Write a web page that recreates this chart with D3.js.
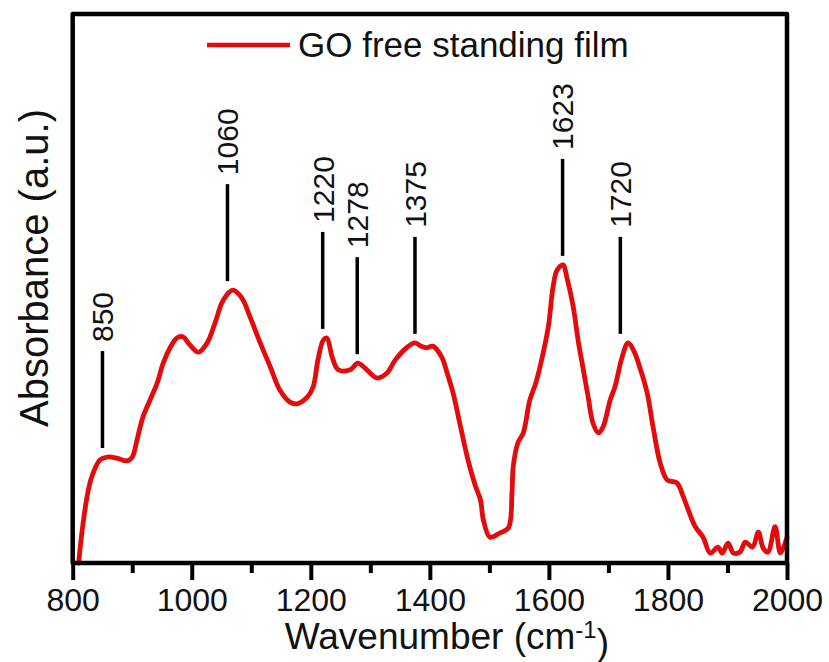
<!DOCTYPE html>
<html>
<head>
<meta charset="utf-8">
<script src="https://cdn.jsdelivr.net/npm/d3@7"></script>
<style>
  body { margin: 0; background: #fff; }
  svg { display: block; }
  text { font-family: "Liberation Sans", Arial, sans-serif; fill: #111; }
</style>
</head>
<body>
<svg id="chart" width="829" height="662"></svg>
<script>
// FTIR spectrum of the GO free standing film
const wavenumber = [810, 816, 824, 832, 846, 858, 874, 891, 900, 908, 918, 930, 942, 952, 964, 975, 985, 997,
  1011, 1026, 1039, 1053, 1069, 1084, 1098, 1115, 1132, 1148, 1165, 1177, 1194, 1204, 1212, 1221, 1227, 1236,
  1246, 1266, 1279, 1291, 1311, 1328, 1342, 1362, 1375, 1385, 1395, 1405, 1420, 1429, 1439, 1451, 1464, 1476,
  1485, 1490, 1501, 1518, 1532, 1538, 1540, 1548, 1557, 1568, 1578, 1585, 1599, 1607, 1614, 1624, 1630, 1641,
  1649, 1657, 1666, 1674, 1683, 1691, 1703, 1711, 1723, 1733, 1742, 1754, 1765, 1775, 1787, 1799, 1815, 1826,
  1834, 1846, 1859, 1871, 1884, 1891, 1901, 1910, 1921, 1930, 1942, 1952, 1960, 1968, 1980, 1989, 2000];
const absorbance = [0.000, 0.060, 0.120, 0.157, 0.188, 0.193, 0.191, 0.186, 0.193, 0.224, 0.266, 0.297, 0.328,
  0.364, 0.393, 0.410, 0.412, 0.397, 0.384, 0.401, 0.437, 0.479, 0.497, 0.483, 0.448, 0.401, 0.357, 0.315, 0.293,
  0.290, 0.302, 0.321, 0.370, 0.406, 0.410, 0.375, 0.352, 0.352, 0.364, 0.355, 0.337, 0.346, 0.370, 0.393, 0.401,
  0.395, 0.392, 0.395, 0.375, 0.346, 0.310, 0.251, 0.188, 0.142, 0.115, 0.078, 0.047, 0.055, 0.064, 0.128, 0.175,
  0.219, 0.237, 0.297, 0.328, 0.357, 0.430, 0.503, 0.534, 0.543, 0.521, 0.466, 0.406, 0.357, 0.302, 0.255, 0.237,
  0.248, 0.297, 0.321, 0.375, 0.401, 0.388, 0.352, 0.310, 0.248, 0.182, 0.151, 0.146, 0.120, 0.097, 0.066, 0.047,
  0.018, 0.029, 0.018, 0.036, 0.018, 0.020, 0.038, 0.029, 0.056, 0.027, 0.020, 0.066, 0.018, 0.047];

// Assigned band positions (cm-1)
const peakLabels = [850, 1060, 1220, 1278, 1375, 1623, 1720];

const majorTicks = [800, 1000, 1200, 1400, 1600, 1800, 2000];
const minorTicks = [900, 1100, 1300, 1500, 1700, 1900];
const seriesName = "GO free standing film";

const svg = d3.select("#chart");
const plotLeft = 72.7, plotRight = 787, plotTop = 14, plotBottom = 563;
const red = "#e30b0b";

const x = d3.scaleLinear().domain([800, 2000]).range([plotLeft, plotRight]);
const y = d3.scaleLinear().domain([0, 1]).range([plotBottom, plotTop]);

const spectrum = wavenumber.map((w, i) => ({ w, a: absorbance[i] }));

// Spectrum trace
const line = d3.line().x(d => x(d.w)).y(d => y(d.a)).curve(d3.curveCatmullRom.alpha(0.5));
svg.append("path")
  .datum(spectrum)
  .attr("d", line)
  .attr("fill", "none")
  .attr("stroke", red)
  .attr("stroke-width", 4.8)
  .attr("stroke-linejoin", "round")
  .attr("stroke-linecap", "round");

// Bottom axis: labelled major ticks and short minor ticks
const majorAxis = d3.axisBottom(x).tickValues(majorTicks).tickSize(17).tickPadding(8).tickFormat(d3.format("d"));
const gMajor = svg.append("g").attr("transform", `translate(0,${plotBottom})`).call(majorAxis);
gMajor.select(".domain").remove();
gMajor.selectAll(".tick line").attr("stroke", "#000").attr("stroke-width", 4);
gMajor.selectAll(".tick text")
  .attr("font-size", 32)
  .attr("font-family", "'Liberation Sans', Arial, sans-serif")
  .attr("fill", "#111");

const minorAxis = d3.axisBottom(x).tickValues(minorTicks).tickSize(10).tickFormat("");
const gMinor = svg.append("g").attr("transform", `translate(0,${plotBottom})`).call(minorAxis);
gMinor.select(".domain").remove();
gMinor.selectAll(".tick line").attr("stroke", "#000").attr("stroke-width", 4);

// Plot frame
svg.append("rect")
  .attr("x", plotLeft).attr("y", plotTop)
  .attr("width", plotRight - plotLeft).attr("height", plotBottom - plotTop)
  .attr("fill", "none")
  .attr("stroke", "#000")
  .attr("stroke-width", 4.5)
  .attr("stroke-linejoin", "round");

// Band markers: a vertical bar above each band, with its wavenumber
const markerLength = 97, markerGap = 9;
peakLabels.forEach(p => {
  const near = spectrum.filter(d => Math.abs(d.w - p) <= 20);
  const peak = d3.max(near, d => d.a);
  const yEnd = y(peak) - markerGap;
  const yStart = yEnd - markerLength;
  const g = svg.append("g");
  g.append("line")
    .attr("x1", x(p)).attr("x2", x(p))
    .attr("y1", yStart).attr("y2", yEnd)
    .attr("stroke", "#000").attr("stroke-width", 3.5);
  g.append("text")
    .attr("transform", `translate(${x(p)},${yStart - 9}) rotate(-90)`)
    .attr("dy", "0.36em")
    .attr("font-size", 30)
    .text(p);
});

// Legend
svg.append("line")
  .attr("x1", 207).attr("x2", 290).attr("y1", 45).attr("y2", 45)
  .attr("stroke", red).attr("stroke-width", 4.5);
svg.append("text")
  .attr("x", 298).attr("y", 57)
  .attr("font-size", 35)
  .text(seriesName);

// Axis titles
const xTitle = svg.append("text")
  .attr("x", (plotLeft + plotRight) / 2 + 17).attr("y", 649)
  .attr("text-anchor", "middle")
  .attr("font-size", 37);
xTitle.append("tspan").text("Wavenumber (cm");
xTitle.append("tspan").attr("dy", "-0.45em").attr("font-size", 24).text("-1");
xTitle.append("tspan").attr("dy", "0.45em").text(")");

svg.append("text")
  .attr("transform", `translate(48,${268}) rotate(-90)`)
  .attr("text-anchor", "middle")
  .attr("font-size", 40)
  .text("Absorbance (a.u.)");
</script>
</body>
</html>
